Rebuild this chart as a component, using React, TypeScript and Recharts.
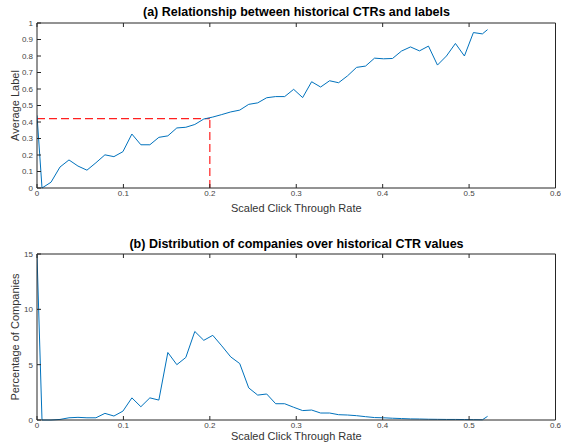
import { LineChart, Line, XAxis, YAxis, ReferenceLine } from 'recharts'

const ctrX = [
  0, 0.0058, 0.0162, 0.0266, 0.037, 0.0474, 0.0578, 0.0682, 0.0786, 0.089,
  0.0994, 0.1098, 0.1202, 0.1306, 0.141, 0.1514, 0.1618, 0.1722, 0.1826, 0.193,
  0.2034, 0.2138, 0.2242, 0.2346, 0.245, 0.2554, 0.2658, 0.2762, 0.2866, 0.297,
  0.3074, 0.3178, 0.3282, 0.3386, 0.349, 0.3594, 0.3698, 0.3802, 0.3906, 0.401,
  0.4114, 0.4218, 0.4322, 0.4426, 0.453, 0.4634, 0.4738, 0.4842, 0.4946, 0.505,
  0.5154, 0.5214,
]

const avgLabel = [
  0.44, 0, 0.035, 0.127, 0.17, 0.133, 0.108, 0.153, 0.201, 0.19,
  0.22, 0.327, 0.262, 0.262, 0.307, 0.316, 0.364, 0.368, 0.385, 0.418,
  0.43, 0.445, 0.461, 0.472, 0.507, 0.516, 0.547, 0.554, 0.554, 0.598,
  0.548, 0.644, 0.612, 0.65, 0.638, 0.68, 0.731, 0.739, 0.787, 0.783,
  0.785, 0.83, 0.855, 0.831, 0.86, 0.745, 0.8, 0.876, 0.8, 0.942,
  0.934, 0.96,
]

const pctCompanies = [
  14.9, 0, 0, 0.05, 0.2, 0.24, 0.2, 0.2, 0.6, 0.36,
  0.8, 2.0, 1.2, 2.0, 1.8, 6.1, 5.0, 5.65, 8.0, 7.2,
  7.65, 6.7, 5.7, 5.1, 2.9, 2.25, 2.35, 1.47, 1.47, 1.15,
  0.85, 0.9, 0.63, 0.63, 0.48, 0.45, 0.39, 0.3, 0.22, 0.2,
  0.16, 0.13, 0.1, 0.09, 0.07, 0.06, 0.05, 0.05, 0.04, 0.03,
  0.02, 0.33,
]

const xTicks = [0, 0.1, 0.2, 0.3, 0.4, 0.5, 0.6]
const labelTicks = [0, 0.1, 0.2, 0.3, 0.4, 0.5, 0.6, 0.7, 0.8, 0.9, 1]
const pctTicks = [0, 5, 10, 15]

const threshold = { x: 0.2, y: 0.42 }

const FONT = '"Liberation Sans", Arial, Helvetica, sans-serif'
const AXIS = '#262626'
const TICK = { fontSize: 8, fill: '#444', fontFamily: FONT }
const BLUE = '#0072BD'

const topData = ctrX.map((x, i) => ({ x, y: avgLabel[i] }))
const bottomData = ctrX.map((x, i) => ({ x, y: pctCompanies[i] }))

const blank = () => ''

const titleStyle: React.CSSProperties = {
  position: 'absolute',
  left: 37,
  width: 519,
  textAlign: 'center',
  fontFamily: FONT,
  fontWeight: 'bold',
  fontSize: 12.5,
  color: '#000',
  lineHeight: '14px',
}

const axisLabel = { fontSize: 11, fill: '#333', fontFamily: FONT }

export default function App() {
  return (
    <div style={{ position: 'absolute', left: 0, top: 0, width: 561, height: 442, background: '#fff' }}>
      <div style={{ ...titleStyle, top: 5 }}>(a) Relationship between historical CTRs and labels</div>
      <div style={{ ...titleStyle, top: 237 }}>(b) Distribution of companies over historical CTR values</div>

      <div style={{ position: 'absolute', left: 0, top: 0 }}>
        <LineChart width={561} height={221} data={topData} margin={{ top: 22, right: 4.5, left: 7, bottom: 2 }}>
          <XAxis
            dataKey="x" type="number" domain={[0, 0.6]} ticks={xTicks} allowDataOverflow
            stroke={AXIS} tick={TICK} tickSize={-4} tickMargin={6} height={31}
            label={{ value: 'Scaled Click Through Rate', position: 'insideBottom', offset: 7, ...axisLabel }}
          />
          <XAxis xAxisId="top" orientation="top" dataKey="x" type="number" domain={[0, 0.6]} ticks={xTicks}
            stroke={AXIS} tickSize={-4} tickFormatter={blank} height={1} />
          <YAxis
            type="number" domain={[0, 1]} ticks={labelTicks} stroke={AXIS} tick={TICK}
            tickSize={-4} tickMargin={8} width={30}
            label={{ value: 'Average Label', angle: -90, position: 'insideLeft', offset: 8, ...axisLabel, style: { textAnchor: 'middle' } }}
          />
          <YAxis yAxisId="right" orientation="right" type="number" domain={[0, 1]} ticks={labelTicks}
            stroke={AXIS} tickSize={-4} tickFormatter={blank} width={1} />
          <ReferenceLine segment={[{ x: 0, y: threshold.y }, { x: threshold.x, y: threshold.y }]} stroke="#ff2020" strokeWidth={1.2} strokeDasharray="8 4" />
          <ReferenceLine segment={[{ x: threshold.x, y: 0 }, { x: threshold.x, y: threshold.y }]} stroke="#ff2020" strokeWidth={1.2} strokeDasharray="8 4" />
          <Line dataKey="y" stroke={BLUE} strokeWidth={1} dot={false} activeDot={false} isAnimationActive={false} />
        </LineChart>
      </div>

      <div style={{ position: 'absolute', left: 0, top: 221 }}>
        <LineChart width={561} height={221} data={bottomData} margin={{ top: 32, right: 4.5, left: 7, bottom: 0 }}>
          <XAxis
            dataKey="x" type="number" domain={[0, 0.6]} ticks={xTicks} allowDataOverflow
            stroke={AXIS} tick={TICK} tickSize={-4} tickMargin={6} height={22}
            label={{ value: 'Scaled Click Through Rate', position: 'insideBottom', offset: 2, ...axisLabel }}
          />
          <XAxis xAxisId="top" orientation="top" dataKey="x" type="number" domain={[0, 0.6]} ticks={xTicks}
            stroke={AXIS} tickSize={-4} tickFormatter={blank} height={1} />
          <YAxis
            type="number" domain={[0, 15]} ticks={pctTicks} stroke={AXIS} tick={TICK}
            tickSize={-4} tickMargin={8} width={30}
            label={{ value: 'Percentage of Companies', angle: -90, position: 'insideLeft', offset: 8, ...axisLabel, style: { textAnchor: 'middle' } }}
          />
          <YAxis yAxisId="right" orientation="right" type="number" domain={[0, 15]} ticks={pctTicks}
            stroke={AXIS} tickSize={-4} tickFormatter={blank} width={1} />
          <Line dataKey="y" stroke={BLUE} strokeWidth={1} dot={false} activeDot={false} isAnimationActive={false} />
        </LineChart>
      </div>
    </div>
  )
}
